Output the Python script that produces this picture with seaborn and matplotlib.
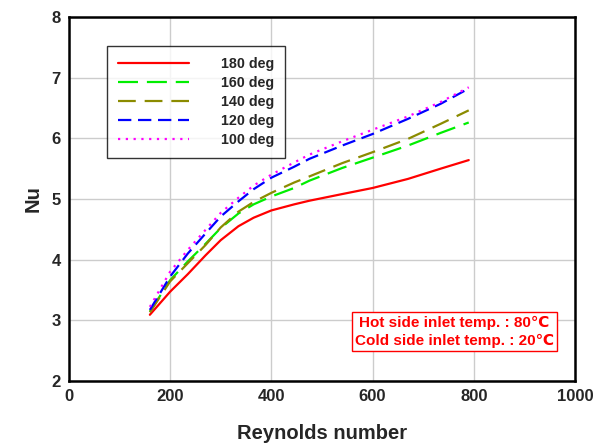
import matplotlib
matplotlib.use("Agg")
import matplotlib.pyplot as plt
import seaborn as sns
import pandas as pd
from matplotlib.ticker import MultipleLocator

sns.set_style("white")
plt.rcParams['font.family'] = ['Liberation Sans', 'DejaVu Sans']

reynolds = [160, 200, 235, 270, 300, 335, 365, 400, 445, 475, 540, 600, 670, 735, 790]
nu_180 = [3.09, 3.47, 3.76, 4.07, 4.32, 4.55, 4.69, 4.81, 4.91, 4.97, 5.08, 5.18, 5.33, 5.50, 5.64]
nu_160 = [3.14, 3.66, 3.97, 4.26, 4.52, 4.76, 4.91, 5.04, 5.18, 5.30, 5.51, 5.68, 5.88, 6.09, 6.26]
nu_140 = [3.13, 3.64, 3.94, 4.24, 4.53, 4.79, 4.95, 5.10, 5.27, 5.37, 5.59, 5.77, 5.99, 6.24, 6.46]
nu_120 = [3.17, 3.72, 4.10, 4.43, 4.71, 4.96, 5.16, 5.35, 5.53, 5.66, 5.88, 6.07, 6.32, 6.57, 6.82]
nu_100 = [3.22, 3.80, 4.16, 4.49, 4.77, 5.02, 5.22, 5.40, 5.60, 5.73, 5.95, 6.14, 6.36, 6.60, 6.84]
labels = ["180 deg", "160 deg", "140 deg", "120 deg", "100 deg"]
series = [nu_180, nu_160, nu_140, nu_120, nu_100]
colors = ["#ff0000", "#00ee00", "#8b8b00", "#0000ff", "#ff00ff"]
dashes = [(None, None), (9, 4), (8, 4), (6, 3), (1, 2.5)]

fig = plt.figure(figsize=(6.15, 4.46), dpi=100)
ax = fig.add_axes([0.112, 0.146, 0.823, 0.816])

for lab, vals, col, ds in zip(labels, series, colors, dashes):
    df = pd.DataFrame({"Re": reynolds, "Nu": vals})
    sns.lineplot(data=df, x="Re", y="Nu", ax=ax, color=col, lw=1.6, label=lab)
    line = ax.get_lines()[-1]
    if ds[0] is None:
        line.set_linestyle("-")
    else:
        line.set_dashes(ds)

ax.set_xlim(0, 1000)
ax.set_ylim(2, 8)
ax.xaxis.set_major_locator(MultipleLocator(200))
ax.xaxis.set_minor_locator(MultipleLocator(50))
ax.yaxis.set_major_locator(MultipleLocator(1))
ax.yaxis.set_minor_locator(MultipleLocator(0.2))
ax.grid(True, which="major", color="#cccccc", lw=1)
ax.tick_params(which="both", direction="in", top=False, right=False)
ax.tick_params(which="major", length=5, width=1.2, labelsize=12, pad=6)
ax.tick_params(which="minor", length=3, width=1)
for lab in ax.get_xticklabels() + ax.get_yticklabels():
    lab.set_fontweight("bold")
for s in ax.spines.values():
    s.set_linewidth(1.8)
    s.set_color("black")

ax.set_xlabel("Reynolds number", fontsize=14.5, fontweight="bold", labelpad=14)
ax.set_ylabel("Nu", fontsize=14.5, fontweight="bold", labelpad=6)

leg = ax.legend(loc="upper left", bbox_to_anchor=(0.061, 0.939), frameon=True,
                fancybox=False, edgecolor="black", handlelength=5.0,
                prop={"weight": "bold", "size": 10.3}, borderpad=0.75,
                labelspacing=0.35, handletextpad=2.2)
leg.get_frame().set_linewidth(1.0)

ax.text(0.762, 0.135, "Hot side inlet temp. : 80\u2103\nCold side inlet temp. : 20\u2103",
        transform=ax.transAxes, ha="center", va="center", color="red",
        fontsize=11, fontweight="bold", multialignment="center", linespacing=1.4,
        bbox=dict(boxstyle="square,pad=0.2", fc="white", ec="red", lw=1))

fig.savefig("out.png", dpi=100)
